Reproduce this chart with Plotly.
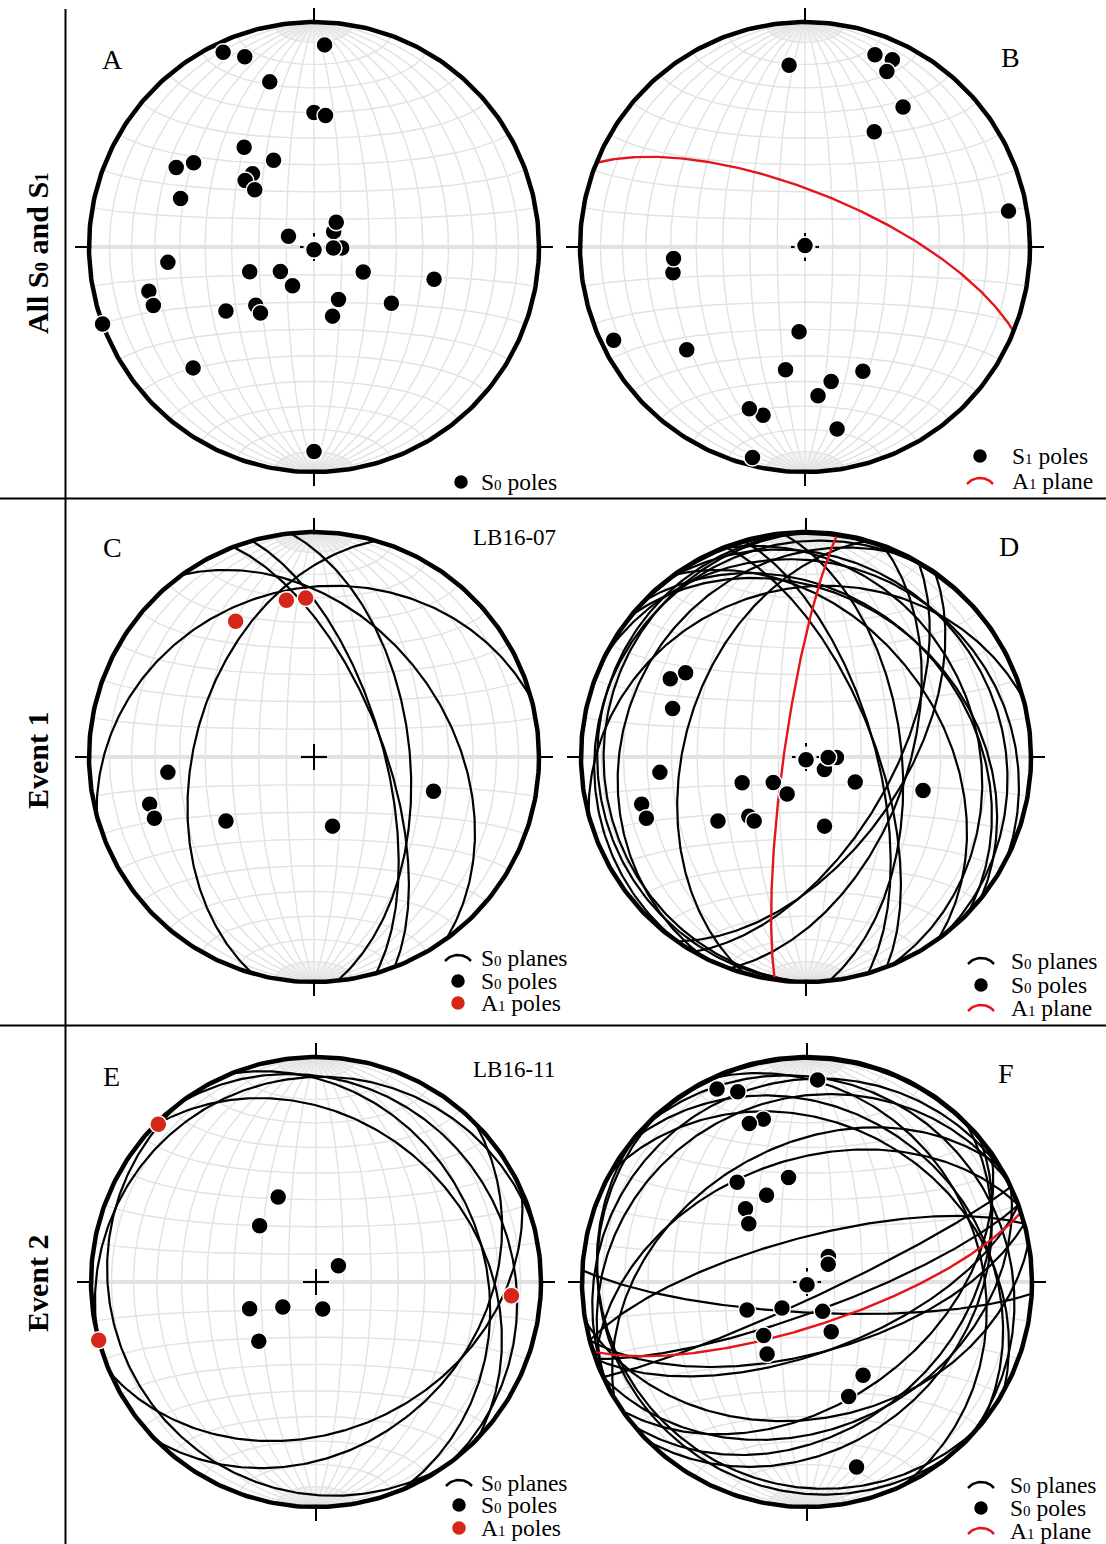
import numpy as np
import plotly.graph_objects as go

# ---------------------------------------------------------------
# DATA  (lower-hemisphere orientations, degrees)
# ---------------------------------------------------------------
# Panel A : all S0 poles (trend, plunge)
A_S0_TREND  = [3, 335, 340, 345, 0, 5, 325, 335, 300, 305, 320, 314, 314, 290,
               52, 42, 293, 180, 92, 93, 264, 249, 234, 209, 117, 105, 255, 250,
               155, 165, 126, 234, 225, 219, 250, 225, 180]
A_S0_PLUNGE = [11, 5, 11, 25, 40, 41, 45, 55, 30, 35, 55, 55, 60, 37,
               81, 78, 80, 89, 80, 83, 35, 65, 75, 74, 70, 44, 25, 25,
               69, 64, 55, 50, 60, 59, 0, 25, 10]

# Panel B : all S1 poles + A1 axial plane
B_S1_TREND  = [25, 355, 20, 25, 35, 31, 80, 0, 259, 265, 244, 229, 184, 189,
               155, 169, 175, 194, 199, 170, 194]
B_S1_PLUNGE = [9, 20, 10, 15, 25, 40, 9, 89.5, 40, 41, 6, 31, 59, 44,
               39, 39, 34, 24, 25, 19, 4]
B_A1_DIPDIR = [22]
B_A1_DIP    = [70]

# Panel C : Event 1, sample LB16-07
C_S0_TREND  = [264, 254, 249, 234, 165, 106]
C_S0_PLUNGE = [35, 25, 25, 50, 64, 44]
C_A1_TREND  = [330, 350, 357]
C_A1_PLUNGE = [31, 30, 30]

# Panel D : Event 1, all
D_S0_TREND  = [300, 305, 290, 264, 254, 249, 234, 248, 224, 219, 232, 207,
               124, 91, 180, 91, 117, 165, 106]
D_S0_PLUNGE = [31, 35, 37, 35, 25, 25, 50, 65, 60, 60, 75, 75,
               82, 79, 89, 82, 70, 64, 45]
D_A1_DIPDIR = [278]
D_A1_DIP    = [82]

# Panel E : Event 2, sample LB16-11
E_S0_TREND  = [336, 315, 54, 248, 233, 166, 224]
E_S0_PLUNGE = [56, 61, 80, 64, 75, 80, 60]
E_A1_TREND  = [315, 94, 255]
E_A1_PLUNGE = [1, 14, 0]

# Panel F : Event 2, all
F_S0_TREND  = [335, 340, 3, 345, 340, 350, 325, 335, 320, 315, 40, 50, 180,
               245, 224, 152, 219, 154, 209, 149, 160, 165]
F_S0_PLUNGE = [6, 11, 11, 26, 26, 51, 45, 55, 55, 60, 78, 80, 89,
               66, 77, 78, 65, 70, 60, 50, 45, 16]
F_A1_DIPDIR = [162]
F_A1_DIP    = [74]

ROW_LABELS = ["All S<span style='font-size:19px'>0</span> and S<span style='font-size:19px'>1</span>",
              "Event 1", "Event 2"]
SAMPLE_LABELS = {"C": "LB16-07", "E": "LB16-11"}

# ---------------------------------------------------------------
# layout constants
# ---------------------------------------------------------------
W, H = 1106, 1544
R = 225.0
FONT = "Liberation Serif"
GRID = "#e2e2e2"
FAN = "#e8e8e8"
RED_LINE = "#e3161b"
RED_DOT = "#d6261a"
DOT_SIZE = 17
LEG_SIZE = 23.5

PANELS = [
    dict(key="A", cx=314, cy=247, box=(66, 0, 560, 498), center="tiny"),
    dict(key="B", cx=805, cy=247, box=(560, 0, 1106, 498), center="tiny"),
    dict(key="C", cx=314, cy=757, box=(66, 499, 560, 1025), center="cross"),
    dict(key="D", cx=806, cy=757, box=(560, 499, 1106, 1025), center="tiny"),
    dict(key="E", cx=316, cy=1282, box=(66, 1026, 560, 1544), center="cross"),
    dict(key="F", cx=807, cy=1282, box=(560, 1026, 1106, 1544), center="tiny"),
]

# ---------------------------------------------------------------
# projection helpers (equal-area, lower hemisphere)
# ---------------------------------------------------------------
def proj(ve, vn, vd):
    f = 1.0 / np.sqrt(1.0 + vd)
    return ve * f, vn * f


def pole_xy(trend, plunge):
    t = np.radians(np.asarray(trend, float))
    p = np.radians(np.asarray(plunge, float))
    return proj(np.sin(t) * np.cos(p), np.cos(t) * np.cos(p), np.sin(p))


def plane_from_pole(trend, plunge, n=181):
    T, P = np.radians(trend), np.radians(plunge)
    s = np.array([np.cos(T), -np.sin(T), 0.0])
    d = np.array([-np.sin(T) * np.sin(P), -np.cos(T) * np.sin(P), np.cos(P)])
    t = np.linspace(0, np.pi, n)
    v = np.outer(np.cos(t), s) + np.outer(np.sin(t), d)
    vd = np.clip(v[:, 2], 0, None)
    return proj(v[:, 0], v[:, 1], vd)


def planes_xy(trends, plunges):
    xs, ys = [], []
    for tr, pl in zip(trends, plunges):
        x, y = plane_from_pole(tr, pl)
        xs += list(x) + [None]
        ys += list(y) + [None]
    return xs, ys


def planes_dd_xy(dipdirs, dips):
    return planes_xy([d + 180 for d in dipdirs], [90 - d for d in dips])


def net_grid():
    xs, ys = [], []
    t = np.linspace(0, np.pi, 121)
    for dip in range(10, 91, 10):
        for sgn in ((1,) if dip == 90 else (1, -1)):
            dr = np.radians(dip)
            x, y = proj(sgn * np.sin(t) * np.cos(dr), np.cos(t), np.sin(t) * np.sin(dr))
            xs += list(x) + [None]
            ys += list(y) + [None]
    b = np.linspace(0, np.pi, 121)
    for a in range(10, 180, 10):
        if a == 90:
            continue
        ar = np.radians(a)
        x, y = proj(np.sin(ar) * np.cos(b), np.full_like(b, np.cos(ar)), np.sin(ar) * np.sin(b))
        xs += list(x) + [None]
        ys += list(y) + [None]
    return xs, ys


def polar_fans():
    xs, ys = [], []
    for dip in range(2, 90, 2):
        if dip % 10 == 0:
            continue
        dr = np.radians(dip)
        for sgn in (1, -1):
            for tt in (np.linspace(np.radians(1.2), np.radians(10), 6),
                       np.linspace(np.radians(170), np.radians(178.8), 6)):
                x, y = proj(sgn * np.sin(tt) * np.cos(dr), np.cos(tt), np.sin(tt) * np.sin(dr))
                xs += list(x) + [None]
                ys += list(y) + [None]
    return xs, ys


GX, GY = net_grid()
FX, FY = polar_fans()
EWX = [-1, 1]
EWY = [0, 0]
th = np.linspace(0, 2 * np.pi, 361)
CIRX, CIRY = np.cos(th), np.sin(th)

# ---------------------------------------------------------------
fig = go.Figure()
axes = {}
ann = []


def paper(px, py):
    return px / W, 1 - py / H


def add(i, **kw):
    xr = "x" if i == 1 else f"x{i}"
    yr = "y" if i == 1 else f"y{i}"
    kw.setdefault("hoverinfo", "skip")
    fig.add_trace(go.Scatter(xaxis=xr, yaxis=yr, showlegend=False, **kw))


def lines(i, x, y, color, width):
    add(i, x=x, y=y, mode="lines", line=dict(color=color, width=width))


def dots(i, x, y, color, size=DOT_SIZE):
    add(i, x=list(x), y=list(y), mode="markers",
        marker=dict(color=color, size=size, line=dict(color="white", width=1.5)))


def text(px, py, s, size, anchor="center", angle=0):
    x, y = paper(px, py)
    ann.append(dict(x=x, y=y, xref="paper", yref="paper", text=s, showarrow=False,
                    xanchor=anchor, yanchor="middle", textangle=angle,
                    font=dict(family=FONT, size=size, color="black")))


def sub(ch, size=15):
    return f"<span style='font-size:{size}px'>{ch}</span>"


LEG = {
    "A": dict(sx=461, tx=479, rows=[("dot", "black", "S" + sub(0) + " poles", 482)]),
    "B": dict(sx=980, tx=1010, rows=[("dot", "black", "S" + sub(1) + " poles", 456),
                                     ("arc", RED_LINE, "A" + sub(1) + " plane", 481)]),
    "C": dict(sx=458, tx=479, rows=[("arc", "black", "S" + sub(0) + " planes", 958),
                                    ("dot", "black", "S" + sub(0) + " poles", 981),
                                    ("dot", RED_DOT, "A" + sub(1) + " poles", 1003)]),
    "D": dict(sx=981, tx=1009, rows=[("arc", "black", "S" + sub(0) + " planes", 961),
                                     ("dot", "black", "S" + sub(0) + " poles", 985),
                                     ("arc", RED_LINE, "A" + sub(1) + " plane", 1008)]),
    "E": dict(sx=459, tx=479, rows=[("arc", "black", "S" + sub(0) + " planes", 1483),
                                    ("dot", "black", "S" + sub(0) + " poles", 1505),
                                    ("dot", RED_DOT, "A" + sub(1) + " poles", 1528)]),
    "F": dict(sx=981, tx=1008, rows=[("arc", "black", "S" + sub(0) + " planes", 1485),
                                     ("dot", "black", "S" + sub(0) + " poles", 1508),
                                     ("arc", RED_LINE, "A" + sub(1) + " plane", 1531)]),
}
LETTER_POS = {"A": (112, 59), "B": (1010, 57), "C": (112, 548), "D": (1009, 547),
              "E": (111, 1076), "F": (1006, 1073)}
SAMPLE_POS = {"C": (514, 537), "E": (514, 1069)}

DATA = {
    "A": dict(poles=[(A_S0_TREND, A_S0_PLUNGE, "black")], planes=None, a1=None),
    "B": dict(poles=[(B_S1_TREND, B_S1_PLUNGE, "black")], planes=None, a1=(B_A1_DIPDIR, B_A1_DIP)),
    "C": dict(poles=[(C_S0_TREND, C_S0_PLUNGE, "black"), (C_A1_TREND, C_A1_PLUNGE, RED_DOT)],
              planes=(C_S0_TREND, C_S0_PLUNGE), a1=None),
    "D": dict(poles=[(D_S0_TREND, D_S0_PLUNGE, "black")], planes=(D_S0_TREND, D_S0_PLUNGE),
              a1=(D_A1_DIPDIR, D_A1_DIP)),
    "E": dict(poles=[(E_S0_TREND, E_S0_PLUNGE, "black"), (E_A1_TREND, E_A1_PLUNGE, RED_DOT)],
              planes=(E_S0_TREND, E_S0_PLUNGE), a1=None),
    "F": dict(poles=[(F_S0_TREND, F_S0_PLUNGE, "black")], planes=(F_S0_TREND, F_S0_PLUNGE),
              a1=(F_A1_DIPDIR, F_A1_DIP)),
}

for i, p in enumerate(PANELS, start=1):
    x0, y0, x1, y1 = p["box"]
    cx, cy = p["cx"], p["cy"]
    xa = "xaxis" if i == 1 else f"xaxis{i}"
    ya = "yaxis" if i == 1 else f"yaxis{i}"
    axes[xa] = dict(domain=[x0 / W, x1 / W], range=[(x0 - cx) / R, (x1 - cx) / R],
                    visible=False, fixedrange=True, anchor="y" if i == 1 else f"y{i}")
    axes[ya] = dict(domain=[1 - y1 / H, 1 - y0 / H], range=[(cy - y1) / R, (cy - y0) / R],
                    visible=False, fixedrange=True, anchor="x" if i == 1 else f"x{i}")

    def ax(px, py):
        return (px - cx) / R, (cy - py) / R

    # net
    lines(i, FX, FY, FAN, 0.6)
    lines(i, GX, GY, GRID, 1.4)
    lines(i, EWX, EWY, GRID, 4)
    d = DATA[p["key"]]
    if d["planes"] is not None:
        x, y = planes_xy(*d["planes"])
        lines(i, x, y, "black", 2.2)
    if d["a1"] is not None:
        x, y = planes_dd_xy(*d["a1"])
        lines(i, x, y, RED_LINE, 2.4)
    # primitive + ticks
    lines(i, CIRX, CIRY, "black", 4.5)
    L = 1 + 14 / R
    tx = [0, 0, None, 0, 0, None, 0.99, L, None, -0.99, -L]
    ty = [0.99, L, None, -0.99, -L, None, 0, 0, None, 0, 0]
    lines(i, tx, ty, "black", 2)
    if p["center"] == "cross":
        c = 13 / R
        lines(i, [-c, c, None, 0, 0], [0, 0, None, -c, c], "black", 2)
    else:
        a, b = 10.5 / R, 14 / R
        lines(i, [a, b, None, -a, -b, None, 0, 0, None, 0, 0],
              [0, 0, None, 0, 0, None, a, b, None, -a, -b], "black", 2)
    for tr, pl, col in d["poles"]:
        x, y = pole_xy(tr, pl)
        dots(i, x, y, col)

    # legend
    lg = LEG[p["key"]]
    for kind, col, label, py in lg["rows"]:
        if kind == "dot":
            sx, sy = ax(lg["sx"], py)
            dots(i, [sx], [sy], col, size=15)
        else:
            rc = 17.0
            xx = np.linspace(-13, 13, 21)
            yy = np.sqrt(rc ** 2 - xx ** 2) - np.sqrt(rc ** 2 - 13 ** 2)
            pxs = lg["sx"] + xx
            pys = py + 3 - yy
            lines(i, [(q - cx) / R for q in pxs], [(cy - q) / R for q in pys], col, 2.5)
        text(lg["tx"], py, label, LEG_SIZE, anchor="left")

    lx, ly = LETTER_POS[p["key"]]
    text(lx, ly, p["key"], 28)
    if p["key"] in SAMPLE_POS:
        sx_, sy_ = SAMPLE_POS[p["key"]]
        text(sx_, sy_, SAMPLE_LABELS[p["key"]], 23)

# row labels
for lab, py in zip(ROW_LABELS, [253, 760, 1283]):
    text(37, py, "<b>" + lab + "</b>", 30, angle=-90)

shapes = [
    dict(type="line", xref="paper", yref="paper", x0=0, x1=1,
         y0=1 - 498.5 / H, y1=1 - 498.5 / H, line=dict(color="black", width=2)),
    dict(type="line", xref="paper", yref="paper", x0=0, x1=1,
         y0=1 - 1025.5 / H, y1=1 - 1025.5 / H, line=dict(color="black", width=2)),
    dict(type="line", xref="paper", yref="paper", x0=65.5 / W, x1=65.5 / W,
         y0=0, y1=1 - 9 / H, line=dict(color="black", width=2)),
]

fig.update_layout(width=W, height=H, margin=dict(l=0, r=0, t=0, b=0),
                  paper_bgcolor="white", plot_bgcolor="white",
                  annotations=ann, shapes=shapes, **axes)
fig.write_html("out.html", config={"displayModeBar": False})
